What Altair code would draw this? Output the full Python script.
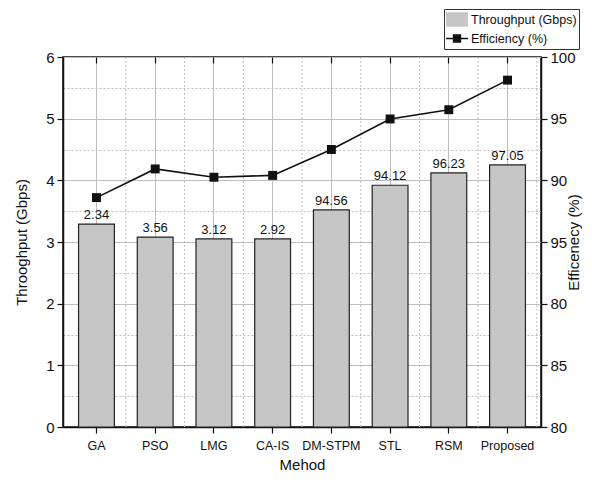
import altair as alt
import pandas as pd

FONT = "Liberation Sans Narrow, Arial Narrow, Liberation Sans, Arial, sans-serif"

methods = ["GA", "PSO", "LMG", "CA-IS", "DM-STPM", "STL", "RSM", "Proposed"]
throughput = [3.29, 3.08, 3.05, 3.05, 3.52, 3.92, 4.12, 4.25]
bar_labels = ["2.34", "3.56", "3.12", "2.92", "94.56", "94.12", "96.23", "97.05"]
efficiency = [92.4, 93.95, 93.5, 93.6, 95.0, 96.65, 97.15, 98.75]

series_names = ["Throughput (Gbps)", "Efficiency (%)"]
left_tick_values = [0, 0.5, 1, 1.5, 2, 2.5, 3, 3.5, 4, 4.5, 5, 5.5, 6]
right_tick_values = [80, 83.3333, 86.6667, 90, 93.3333, 96.6667, 100]
right_tick_labels = ["80", "85", "80", "95", "90", "95", "100"]

thr_df = pd.DataFrame({"method": methods, "thr": throughput, "label": bar_labels})
eff_df = pd.DataFrame({"method": methods, "eff": efficiency, "series": series_names[1]})

INK = "#111111"
GRID = "#bdbdbd"

x_scale = alt.Scale(domain=methods, paddingInner=0, paddingOuter=0.07)
x_axis = alt.Axis(
    title="Mehod", labelAngle=0, grid=True, gridColor=GRID, gridWidth=1,
    tickSize=6, labelPadding=6, titlePadding=6, labelFontSize=12.5, titleFontSize=15,
)
x_axis_top = alt.Axis(
    orient="top", title=None, labels=False, domain=False, grid=False,
    tickSize=6, offset=-6,
)


def xenc(axis=x_axis, **kw):
    return alt.X("method:N", scale=x_scale, axis=axis, **kw)


minor_test = "datum.value % 1 != 0"
y_left_scale = alt.Scale(domain=[0, 6], nice=False, zero=True)
y_left_axis = alt.Axis(
    title="Throoghput (Gbps)", values=left_tick_values,
    labelExpr="datum.value % 1 == 0 ? format(datum.value, 'd') : ''",
    grid=True, gridColor=GRID, gridWidth=1,
    gridDash={"condition": {"test": minor_test, "value": [2, 2]}, "value": []},
    tickOpacity={"condition": {"test": minor_test, "value": 0}, "value": 1},
    tickSize=6, labelPadding=3, titlePadding=16, labelFontSize=15, titleFontSize=15,
)

label_js = "[" + ",".join("'%s'" % s for s in right_tick_labels) + "]"
y_right_scale = alt.Scale(domain=[80, 100], nice=False, zero=False)
y_right_axis = alt.Axis(
    orient="right", title="Efficenecy (%)", values=right_tick_values,
    labelExpr=label_js + "[round((datum.value-80)*0.3)]",
    grid=False, tickSize=6, labelPadding=3, titlePadding=6,
    labelFontSize=15, titleFontSize=15, titleAngle=270,
)

vrules = alt.Chart(thr_df).mark_rule(color=GRID, strokeDash=[2, 2], strokeWidth=1).encode(
    x=xenc(bandPosition=1)
)

bars = alt.Chart(thr_df).mark_bar(
    fill="#c6c6c6", stroke="#222222", strokeWidth=1.2, width=alt.RelativeBandSize(0.61)
).encode(
    x=xenc(),
    y=alt.Y("thr:Q", scale=y_left_scale, axis=y_left_axis),
)

labels = alt.Chart(thr_df).mark_text(
    dy=-5, baseline="alphabetic", fontSize=13, font=FONT, color=INK
).encode(
    x=xenc(),
    y=alt.Y("thr:Q", scale=y_left_scale, axis=y_left_axis),
    text="label:N",
)

yr = alt.Y("eff:Q", scale=y_right_scale, axis=y_right_axis)

line = alt.Chart(eff_df).mark_line(color=INK, strokeWidth=1.6).encode(x=xenc(x_axis_top), y=yr)
points = alt.Chart(eff_df).mark_square(size=80, color=INK, opacity=1).encode(x=xenc(x_axis_top), y=yr)

legend = alt.Legend(
    title=None, orient="none", legendX=381, legendY=-48, direction="vertical",
    strokeColor="#333333", fillColor="white", padding=2, clipHeight=17, rowPadding=2,
    labelFont=FONT, labelFontSize=12.5, labelColor=INK, labelOffset=3,
    symbolSize=484, symbolOpacity=1, symbolStrokeWidth=0, cornerRadius=0,
)
rect_path = "M-1,-0.65H1V0.65H-1Z"
line_sq_path = "M-1,-0.07H1V0.07H-1ZM-0.38,-0.38H0.38V0.38H-0.38Z"

legend_pts = alt.Chart(eff_df).mark_point(opacity=0, filled=True).encode(
    x=xenc(x_axis_top), y=yr,
    fill=alt.Fill("series:N", scale=alt.Scale(domain=series_names, range=["#c6c6c6", INK]), legend=legend),
    shape=alt.Shape("series:N", scale=alt.Scale(domain=series_names, range=[rect_path, line_sq_path]), legend=legend),
)

left = alt.layer(vrules, bars, labels)
right = alt.layer(line, points, legend_pts)

chart = alt.layer(left, right).resolve_scale(y="independent").resolve_axis(x="independent").properties(
    width=478, height=370,
    autosize=alt.AutoSizeParams(type="none"),
    padding={"left": 55, "top": 49, "right": 43, "bottom": 49},
).configure_axis(
    domainColor=INK, domainWidth=1.5, tickColor=INK, tickWidth=1.2,
    labelColor=INK, titleColor=INK, labelFont=FONT, titleFont=FONT,
    titleFontWeight="normal",
).configure_view(stroke=INK, strokeWidth=1.5)

chart.save("out.html", embed_options={"renderer": "svg", "actions": False})
